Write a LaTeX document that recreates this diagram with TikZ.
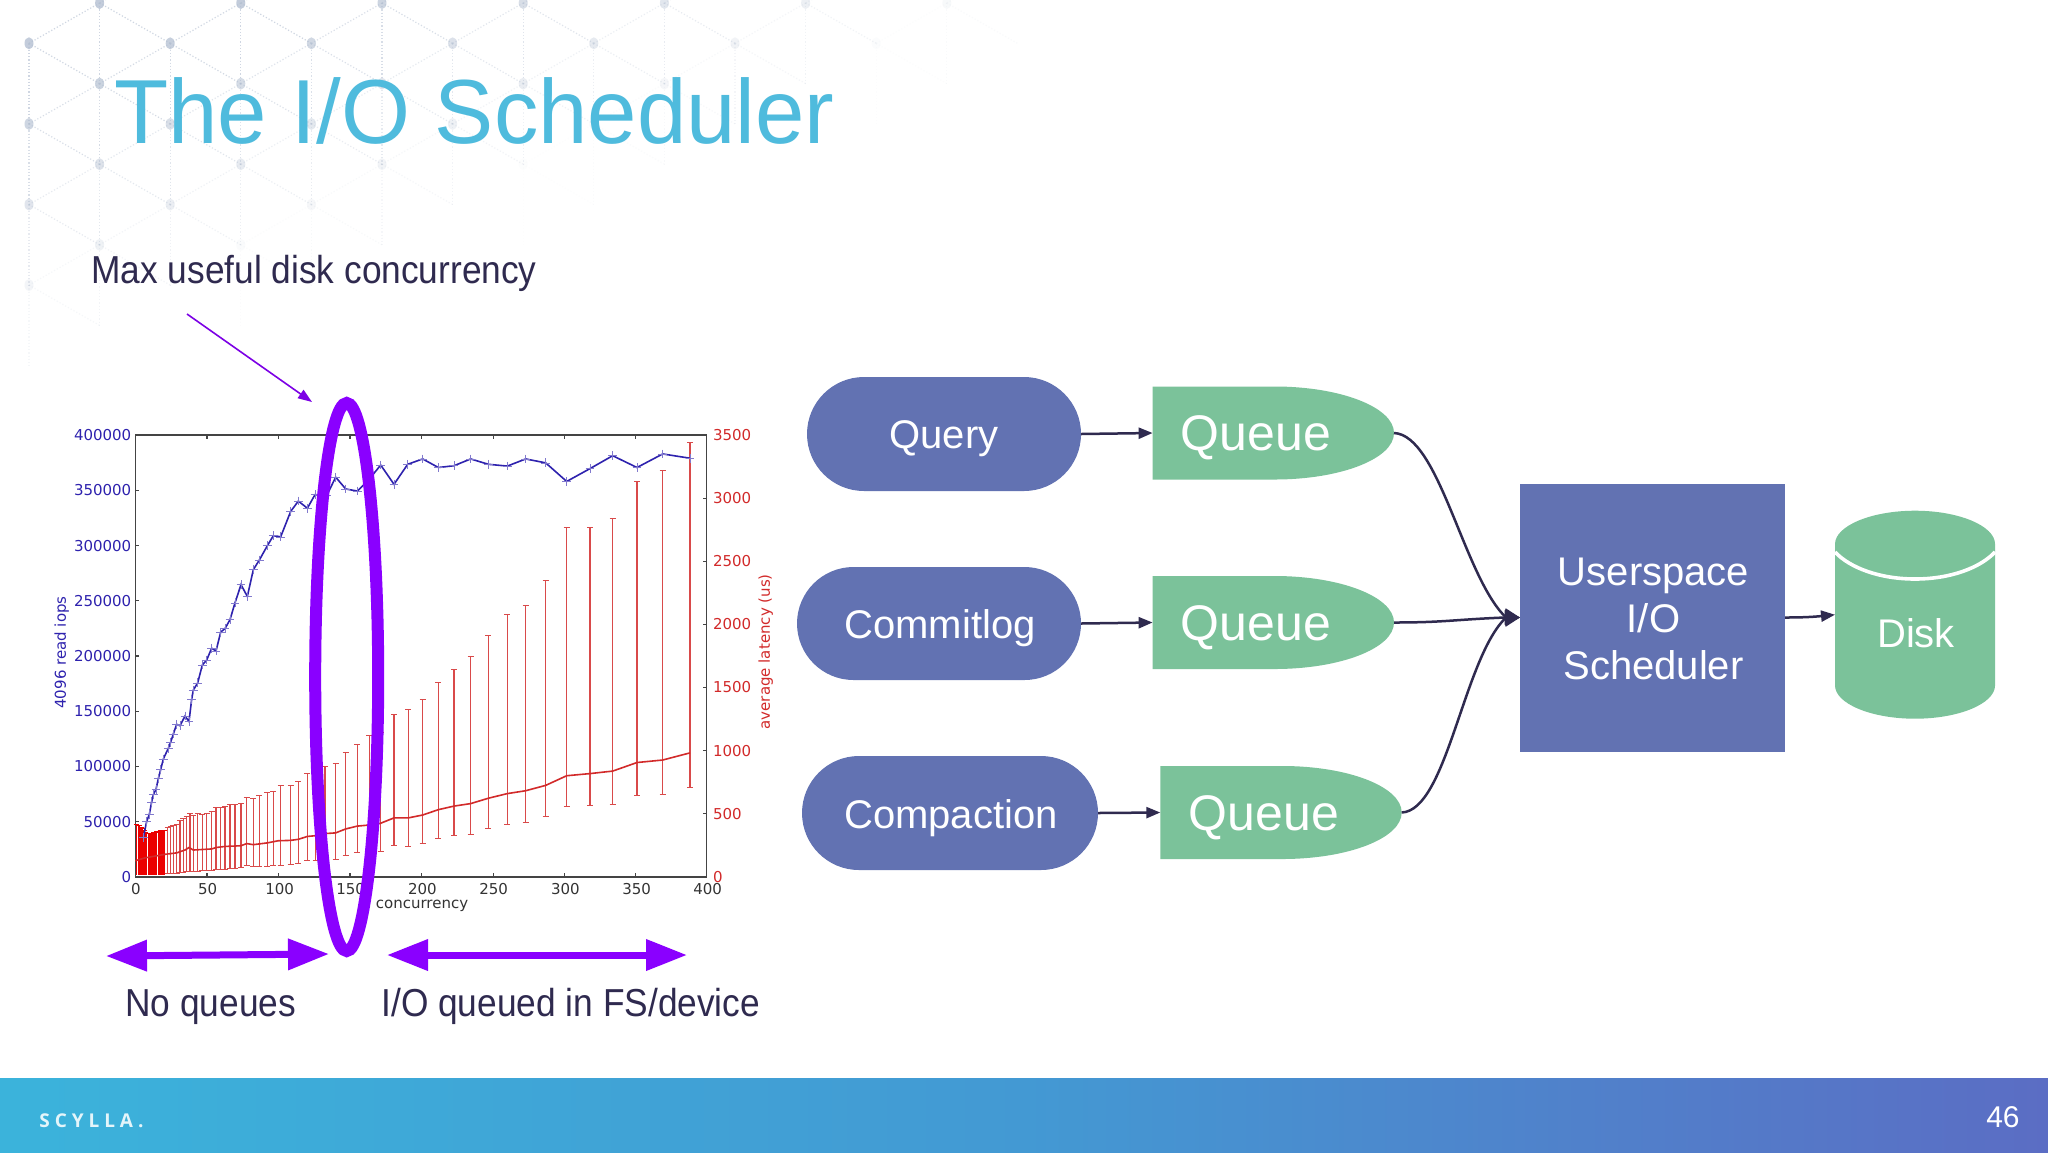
\documentclass[tikz,border=0pt]{standalone}
\usepackage{fontspec}
\setmainfont{Liberation Sans}
\newfontfamily\titlefont[FakeStretch=0.975]{Liberation Sans}
\newfontfamily\condfont[FakeStretch=0.905]{Liberation Sans}
\newfontfamily\plotfont{DejaVu Sans}
\newfontfamily\logofont[LetterSpace=26]{Open Sans}
\usetikzlibrary{arrows.meta,shapes.misc,calc}
\definecolor{ink}{HTML}{2F2A4F}
\definecolor{titleblue}{HTML}{4FBBDD}
\definecolor{boxblue}{HTML}{6272B2}
\definecolor{qgreen}{HTML}{7BC29A}
\definecolor{violet}{HTML}{8A00FF}
\definecolor{iopsblue}{HTML}{2E22AE}
\definecolor{latred}{HTML}{D22A2A}
\definecolor{axisgrey}{HTML}{444444}
\definecolor{hexgrey}{HTML}{B4C0D2}
\definecolor{footl}{HTML}{3BB3DB}
\definecolor{footm}{HTML}{4399D3}
\definecolor{footr}{HTML}{5B6DC4}
\tikzset{
  pill/.style={rounded rectangle,fill=boxblue,inner sep=0pt,outer sep=0pt},
  pilltext/.style={text=white,inner sep=0pt,font=\fontsize{20pt}{24pt}\selectfont},
  qbox/.style={rectangle,minimum width=120.7pt,minimum height=46.5pt,inner sep=0pt,outer sep=0pt},
  qtext/.style={text=white,inner sep=0pt,font=\fontsize{25pt}{28pt}\selectfont},
  flow/.style={draw=ink,line width=1.25pt,-{Triangle[length=7pt,width=5.5pt]}},
  flowin/.style={draw=ink,line width=1.25pt,-{Triangle[length=7.5pt,width=8pt]}},
  bigarrow/.style={draw=violet,line width=3.5pt,{Triangle[length=20.5pt,width=15pt]}-{Triangle[length=20.5pt,width=15pt]}},
  slidetext/.style={text=ink,inner sep=0pt,anchor=base west,font=\condfont\fontsize{19.5pt}{23pt}\selectfont},
  tickl/.style={inner sep=0pt,font=\plotfont\fontsize{7.5pt}{9pt}\selectfont},
  errbar/.style={draw=latred!85!white,line width=0.6pt},
}
\begin{document}
\begin{tikzpicture}[x=0.5pt,y=-0.5pt]
\useasboundingbox (0,0) rectangle (2048,1152);
\fill[white] (0,0) rectangle (2048,1152);
% faint hexagon backdrop
\foreach \i in {0,...,13}{
 \foreach \j in {0,...,8}{
  \pgfmathtruncatemacro\parity{mod(\i+\j,2)}
  \ifnum\parity=1
   \pgfmathsetmacro\X{29+70.6*\i}
   \pgfmathsetmacro\Y{3+40.3*\j}
   \pgfmathsetmacro\a{1-\X/1050-\Y/345}
   \ifdim\a pt>0.02pt
    \pgfmathsetmacro\oa{min(0.8,\a*1.05)}
    \pgfmathsetmacro\ob{min(0.7,\oa*0.8)}
    \fill[hexgrey,opacity=\oa] (\X,\Y) ellipse (4.5 and 6);
    \draw[hexgrey,opacity=\ob,line width=0.6pt,densely dotted] (\X,\Y) -- ++(70.6,40.3);
    \draw[hexgrey,opacity=\ob,line width=0.6pt,densely dotted] (\X,\Y) -- ++(70.6,-40.3);
    \draw[hexgrey,opacity=\ob,line width=0.6pt,densely dotted] (\X,\Y) -- ++(0,80.6);
   \fi
  \fi
 }
}
% footer
\shade[left color=footl,right color=footr,middle color=footm] (0,1078) rectangle (2048,1152);
\node[anchor=base west,inner sep=0pt,text=white!85!titleblue,font=\logofont\bfseries\fontsize{9.5pt}{11pt}\selectfont] (logo) at (39,1127) {SCYLLA.};
\node[anchor=base east,inner sep=0pt,text=white,font=\fontsize{15pt}{18pt}\selectfont] (pageno) at (2020,1127) {46};
% title and labels
\node[anchor=base west,inner sep=0pt,text=titleblue,font=\titlefont\fontsize{45.5pt}{52pt}\selectfont] (title) at (114,143) {The I/O Scheduler};
\node[slidetext] (maxlabel) at (91,283) {Max useful disk concurrency};
\node[slidetext] (noq) at (125,1016) {No queues};
\node[slidetext] (ioq) at (381,1016) {I/O queued in FS/device};
% chart, drawn in its own scale
\begin{scope}[shift={(30,400)},x=0.166667pt,y=-0.178571pt]
 % frame and ticks
 \foreach \v in {531,745,960,1175,1390,1604,1817,2030}{
  \draw[axisgrey,line width=0.6pt] (\v,1335) -- (\v,1323);
  \draw[axisgrey,line width=0.6pt] (\v,98) -- (\v,110);
 }
 \foreach \v in {98,253,408,562,717,872,1026,1181}{
  \draw[axisgrey,line width=0.6pt] (316,\v) -- (328,\v);
 }
 \foreach \v in {98,275,452,628,805,982,1158}{
  \draw[axisgrey,line width=0.6pt] (2030,\v) -- (2018,\v);
 }
 \draw[axisgrey,line width=0.8pt] (316,98) rectangle (2030,1335);
 % dense error bars
 \foreach \x/\h in {320/1188,325/1190,329/1192,333/1196,337/1200,342/1205,346/1210,350/1214,355/1214,359/1214,363/1213,368/1213,372/1211,376/1210,380/1208,385/1208,389/1207,393/1206,398/1205,402/1204}{
  \draw[red!92!black,line width=0.72pt] (\x,\h) -- (\x,1330);
  \draw[red!92!black,line width=0.5pt] (\x-8,\h) -- (\x+8,\h);
 }
 % error bars
 \foreach \x/\l/\h in {413/1326/1197,422/1326/1193,430/1325/1190,440/1325/1188,450/1324/1178,460/1323/1172,470/1321/1165,480/1320/1158,490/1320/1162,503/1319/1158,517/1318/1160,530/1317/1158,545/1316/1153,558/1315/1142,572/1315/1140,585/1313/1138,600/1311/1133,615/1311/1133,633/1310/1130,650/1303/1113,670/1307/1115,688/1306/1107,712/1305/1100,730/1304/1095,752/1303/1080,782/1300/1078,805/1298/1068,832/1290/1045,857/1290/1045,885/1283/1025,917/1285/1018,947/1275/988,982/1267/965,1018/1265/940,1052/1265/930,1092/1246/880,1135/1249/867,1178/1242/838,1225/1228/792,1272/1220/755,1322/1215/718,1375/1200/659,1432/1187/600,1487/1183/575,1547/1167/504,1610/1138/358,1680/1135/357,1748/1132/333,1821/1107/228,1898/1104/198,1980/1084/120}{
  \draw[errbar] (\x,\l) -- (\x,\h);
  \draw[errbar,line width=0.45pt] (\x-9,\l) -- (\x+9,\l);
  \draw[errbar,line width=0.45pt] (\x-9,\h) -- (\x+9,\h);
 }
 % latency mean
 \draw[latred,line width=0.8pt] plot coordinates {(316,1290) (345,1282) (405,1272) (440,1268) (465,1260) (477,1253) (490,1260) (545,1257) (558,1253) (585,1250) (633,1248) (650,1242) (670,1245) (712,1240) (745,1234) (782,1233) (805,1230) (832,1222) (855,1220) (885,1214) (917,1212) (947,1201) (982,1193) (1018,1190) (1052,1185) (1092,1170) (1135,1170) (1178,1162) (1225,1147) (1272,1137) (1322,1130) (1375,1115) (1432,1102) (1487,1094) (1547,1079) (1610,1052) (1680,1046) (1748,1039) (1821,1015) (1898,1008) (1980,988)};
 % iops
 \draw[iopsblue,line width=0.8pt,mark=+,mark size=2.2pt,mark options={iopsblue!60!white,line width=0.3pt}] plot coordinates {(340,1225) (350,1180) (358,1160) (365,1125) (370,1105) (378,1090) (385,1060) (392,1035) (400,1005) (415,975) (422,958) (430,935) (440,908) (450,912) (465,885) (477,900) (485,838) (490,812) (503,792) (517,742) (530,728) (545,695) (558,703) (572,650) (585,640) (600,615) (615,568) (633,517) (652,550) (670,475) (688,448) (712,408) (730,380) (752,383) (782,312) (805,283) (832,303) (855,265) (890,268) (917,216) (947,249) (982,255) (1015,225) (1052,182) (1092,236) (1133,180) (1178,165) (1225,189) (1272,184) (1322,165) (1375,180) (1432,185) (1487,165) (1547,176) (1610,228) (1680,192) (1748,156) (1821,189) (1898,151) (1980,163)};
 % left labels
 \foreach \v/\t in {98/400000,253/350000,408/300000,562/250000,717/200000,872/150000,1026/100000,1181/50000,1335/0}{
  \node[tickl,text=iopsblue,anchor=east] (yl\t) at (305,\v) {\t};
 }
 \foreach \v/\t in {98/3500,275/3000,452/2500,628/2000,805/1500,982/1000,1158/500,1335/0}{
  \node[tickl,text=latred,anchor=west] (yr\t) at (2048,\v) {\t};
 }
 \foreach \v/\t in {318/0,533/50,749/100,962/150,1177/200,1391/250,1606/300,1820/350,2033/400}{
  \node[tickl,text=black!80] (xl\t) at (\v,1370) {\t};
 }
 \node[tickl,text=black!80] (xname) at (1176,1417) {concurrency};
 \node[tickl,text=iopsblue,rotate=90] (yname) at (95,707) {4096 read iops};
 \node[tickl,text=latred,rotate=90] (rname) at (2207,705) {average latency (us)};
\end{scope}
% marker ring and arrows
\coordinate (ringc) at (346.7,677);
\draw[violet,line width=6pt] (ringc) ellipse (31.5 and 274);
\coordinate (a0) at (187,314);
\coordinate (a1) at (312,402);
\draw[violet!90!black,line width=0.8pt,-{Triangle[length=7pt,width=5pt]}] (a0) -- (a1);
\coordinate (l0) at (106,956);
\coordinate (l1) at (329,954);
\draw[bigarrow] (l0) -- (l1);
\coordinate (r0) at (387,955);
\coordinate (r1) at (687,955);
\draw[bigarrow] (r0) -- (r1);
% diagram
\node[pill,minimum width=137pt,minimum height=57pt] (query) at (944,434) {};
\node[pill,minimum width=142pt,minimum height=56.5pt] (commit) at (939,623.5) {};
\node[pill,minimum width=148pt,minimum height=57pt] (compact) at (950,813) {};
\node[pilltext] (tquery) at (944,439) {Query};
\node[pilltext] (tcommit) at (940,628) {Commitlog};
\node[pilltext] (tcompact) at (951,818) {Compaction};
\node[qbox] (q1) at (1273.3,433) {};
\node[qbox] (q2) at (1273.3,622.5) {};
\node[qbox] (q3) at (1281,812.5) {};
\foreach \q in {q1,q2,q3}{
 \fill[qgreen] (\q.north west) -- ++(122,0) .. controls +(66,0) and +(0,-25.7) .. ++(119.4,46.5) .. controls +(0,25.7) and +(66,0) .. ++(-119.4,46.5) -- (\q.south west) -- cycle;
}
\node[qtext] (tq1) at (1256,438) {Queue};
\node[qtext] (tq2) at (1256,627.5) {Queue};
\node[qtext] (tq3) at (1264,817.5) {Queue};
\node[rectangle,fill=boxblue,text=white,align=center,inner sep=0pt,outer sep=0pt,minimum width=132.5pt,minimum height=134pt,font=\fontsize{20pt}{23.5pt}\selectfont] (sched) at (1652.5,617.5) {};
\node[text=white,align=center,inner sep=0pt,font=\fontsize{20pt}{23.5pt}\selectfont] (tsched) at (1653.5,619) {Userspace\\I/O\\Scheduler};
\node[rectangle,minimum width=80pt,minimum height=104pt,inner sep=0pt,outer sep=0pt] (disk) at (1915,614.7) {};
\fill[qgreen] (1835,544) -- (1835,685.5) .. controls (1835,703.5) and (1871,718.7) .. (1915,718.7) .. controls (1959,718.7) and (1995,703.5) .. (1995,685.5) -- (1995,544) .. controls (1995,526) and (1959,510.7) .. (1915,510.7) .. controls (1871,510.7) and (1835,526) .. (1835,544) -- cycle;
\draw[white,line width=1.8pt] (1835,552) .. controls (1850,568) and (1880,579) .. (1915,579) .. controls (1950,579) and (1980,568) .. (1995,552);
\node[text=white,inner sep=0pt,font=\fontsize{20pt}{24pt}\selectfont] (disktext) at (1916,633) {Disk};
% connectors
\draw[flow] (query.east) -- (q1.west);
\draw[flow] (commit.east) -- (q2.west);
\draw[flow] (compact.east) -- (q3.west);
\draw[flowin] (q1.east) .. controls +(45,2) and +(-42,-42) .. ($(sched.west)+(-15,-1)$) -- (sched.west);
\draw[flowin] (q2.east) .. controls +(50,0) and +(-50,2) .. ($(sched.west)+(-15,0)$) -- (sched.west);
\draw[flowin] (q3.east) .. controls +(45,-2) and +(-42,42) .. ($(sched.west)+(-15,1)$) -- (sched.west);
\draw[flow] (sched.east) .. controls +(20,0) and +(-20,2) .. (disk.west);
\end{tikzpicture}
\end{document}
